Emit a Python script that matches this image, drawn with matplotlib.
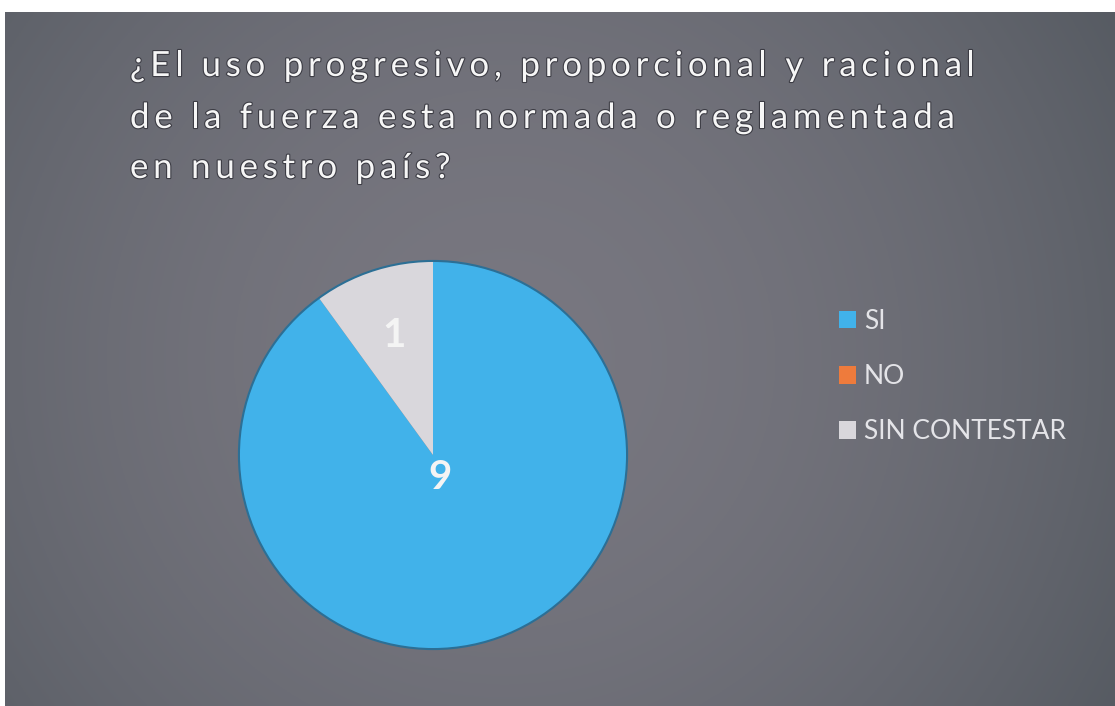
import matplotlib

matplotlib.use("Agg")
import matplotlib.pyplot as plt  # noqa: E402
import matplotlib.patheffects as pe  # noqa: E402
import numpy as np  # noqa: E402

title_lines = [
    "¿El uso progresivo, proporcional y racional",
    "de la fuerza esta normada o reglamentada",
    "en nuestro país?",
]
categories = ["SI", "NO", "SIN CONTESTAR"]
counts = [9, 0, 1]
colors = ["#41b2ea", "#ee7b3c", "#d9d7dc"]

W, H = 1115, 706
FONT = "Lato"
fig = plt.figure(figsize=(W / 100, H / 100), dpi=100, facecolor="white")
renderer = fig.canvas.get_renderer()

# slide background: radial gradient, lighter in the middle
bg = fig.add_axes([5 / W, 0, 1 - 5 / W, (H - 12) / H])
yy, xx = np.mgrid[0:1:300j, 0:1:480j]
r = np.sqrt(((xx - 0.45) / 0.72) ** 2 + ((yy - 0.5) / 1.15) ** 2)
r = np.clip(r, 0, 1)
c0 = np.array([0x78, 0x77, 0x80]) / 255
c1 = np.array([0x4e, 0x54, 0x5b]) / 255
k = r[..., None] ** 1.8
bg.imshow(c0 * (1 - k) + c1 * k, aspect="auto", extent=[0, 1, 0, 1], origin="upper")
bg.set_axis_off()


def text_width(s, **kw):
    t = fig.text(0, 0, s + "|", **kw)
    w = t.get_window_extent(renderer).width
    t.remove()
    t = fig.text(0, 0, "|", **kw)
    w -= t.get_window_extent(renderer).width
    t.remove()
    return w


def tracked_text(x, y, s, track, **kw):
    # draw text char by char with extra letter spacing (pixels)
    for i, ch in enumerate(s):
        if ch == " ":
            continue
        px = x + text_width(s[:i], **kw) + i * track
        fig.text(px / W, 1 - y / H, ch, ha="left", va="baseline", **kw)


halo = [pe.withStroke(linewidth=1.6, foreground="#3c3c44")]
title_kw = dict(color="#f6f6f6", fontsize=25, family=FONT, path_effects=halo)
for line, base in zip(title_lines, [76, 128, 178]):
    tracked_text(130, base, line, 4.8, **title_kw)

# pie
cx, cy, rad = 433, 455, 196
ax = fig.add_axes([(cx - rad) / W, (H - cy - rad) / H, 2 * rad / W, 2 * rad / H])
wedges, _ = ax.pie(counts, colors=colors, startangle=90, counterclock=False,
                   wedgeprops=dict(edgecolor="none"))
ax.add_patch(plt.Circle((0, 0), 1.0, fill=False, edgecolor="#2c6f95", lw=1.5))
ax.set_xlim(-1.01, 1.01)
ax.set_ylim(-1.01, 1.01)
ax.set_aspect("equal")
ax.set_axis_off()

label_dist = [0.12, 0.5, 0.65]
for w, n, d in zip(wedges, counts, label_dist):
    if n == 0:
        continue
    mid = np.deg2rad((w.theta1 + w.theta2) / 2)
    ax.text(d * np.cos(mid), d * np.sin(mid), str(n), ha="center", va="center",
            color="#f4f4f4", fontsize=29, fontweight="bold", family=FONT)

leg = fig.legend(wedges, categories, loc="upper left",
                 bbox_to_anchor=(815 / W, 1 - 285 / H), frameon=False,
                 labelspacing=1.15, handlelength=0.66, handleheight=0.66,
                 handletextpad=0.3, prop={"family": FONT, "size": 19})
for t in leg.get_texts():
    t.set_color("#e4e4e8")

fig.savefig("out.png", dpi=100, facecolor=fig.get_facecolor())
